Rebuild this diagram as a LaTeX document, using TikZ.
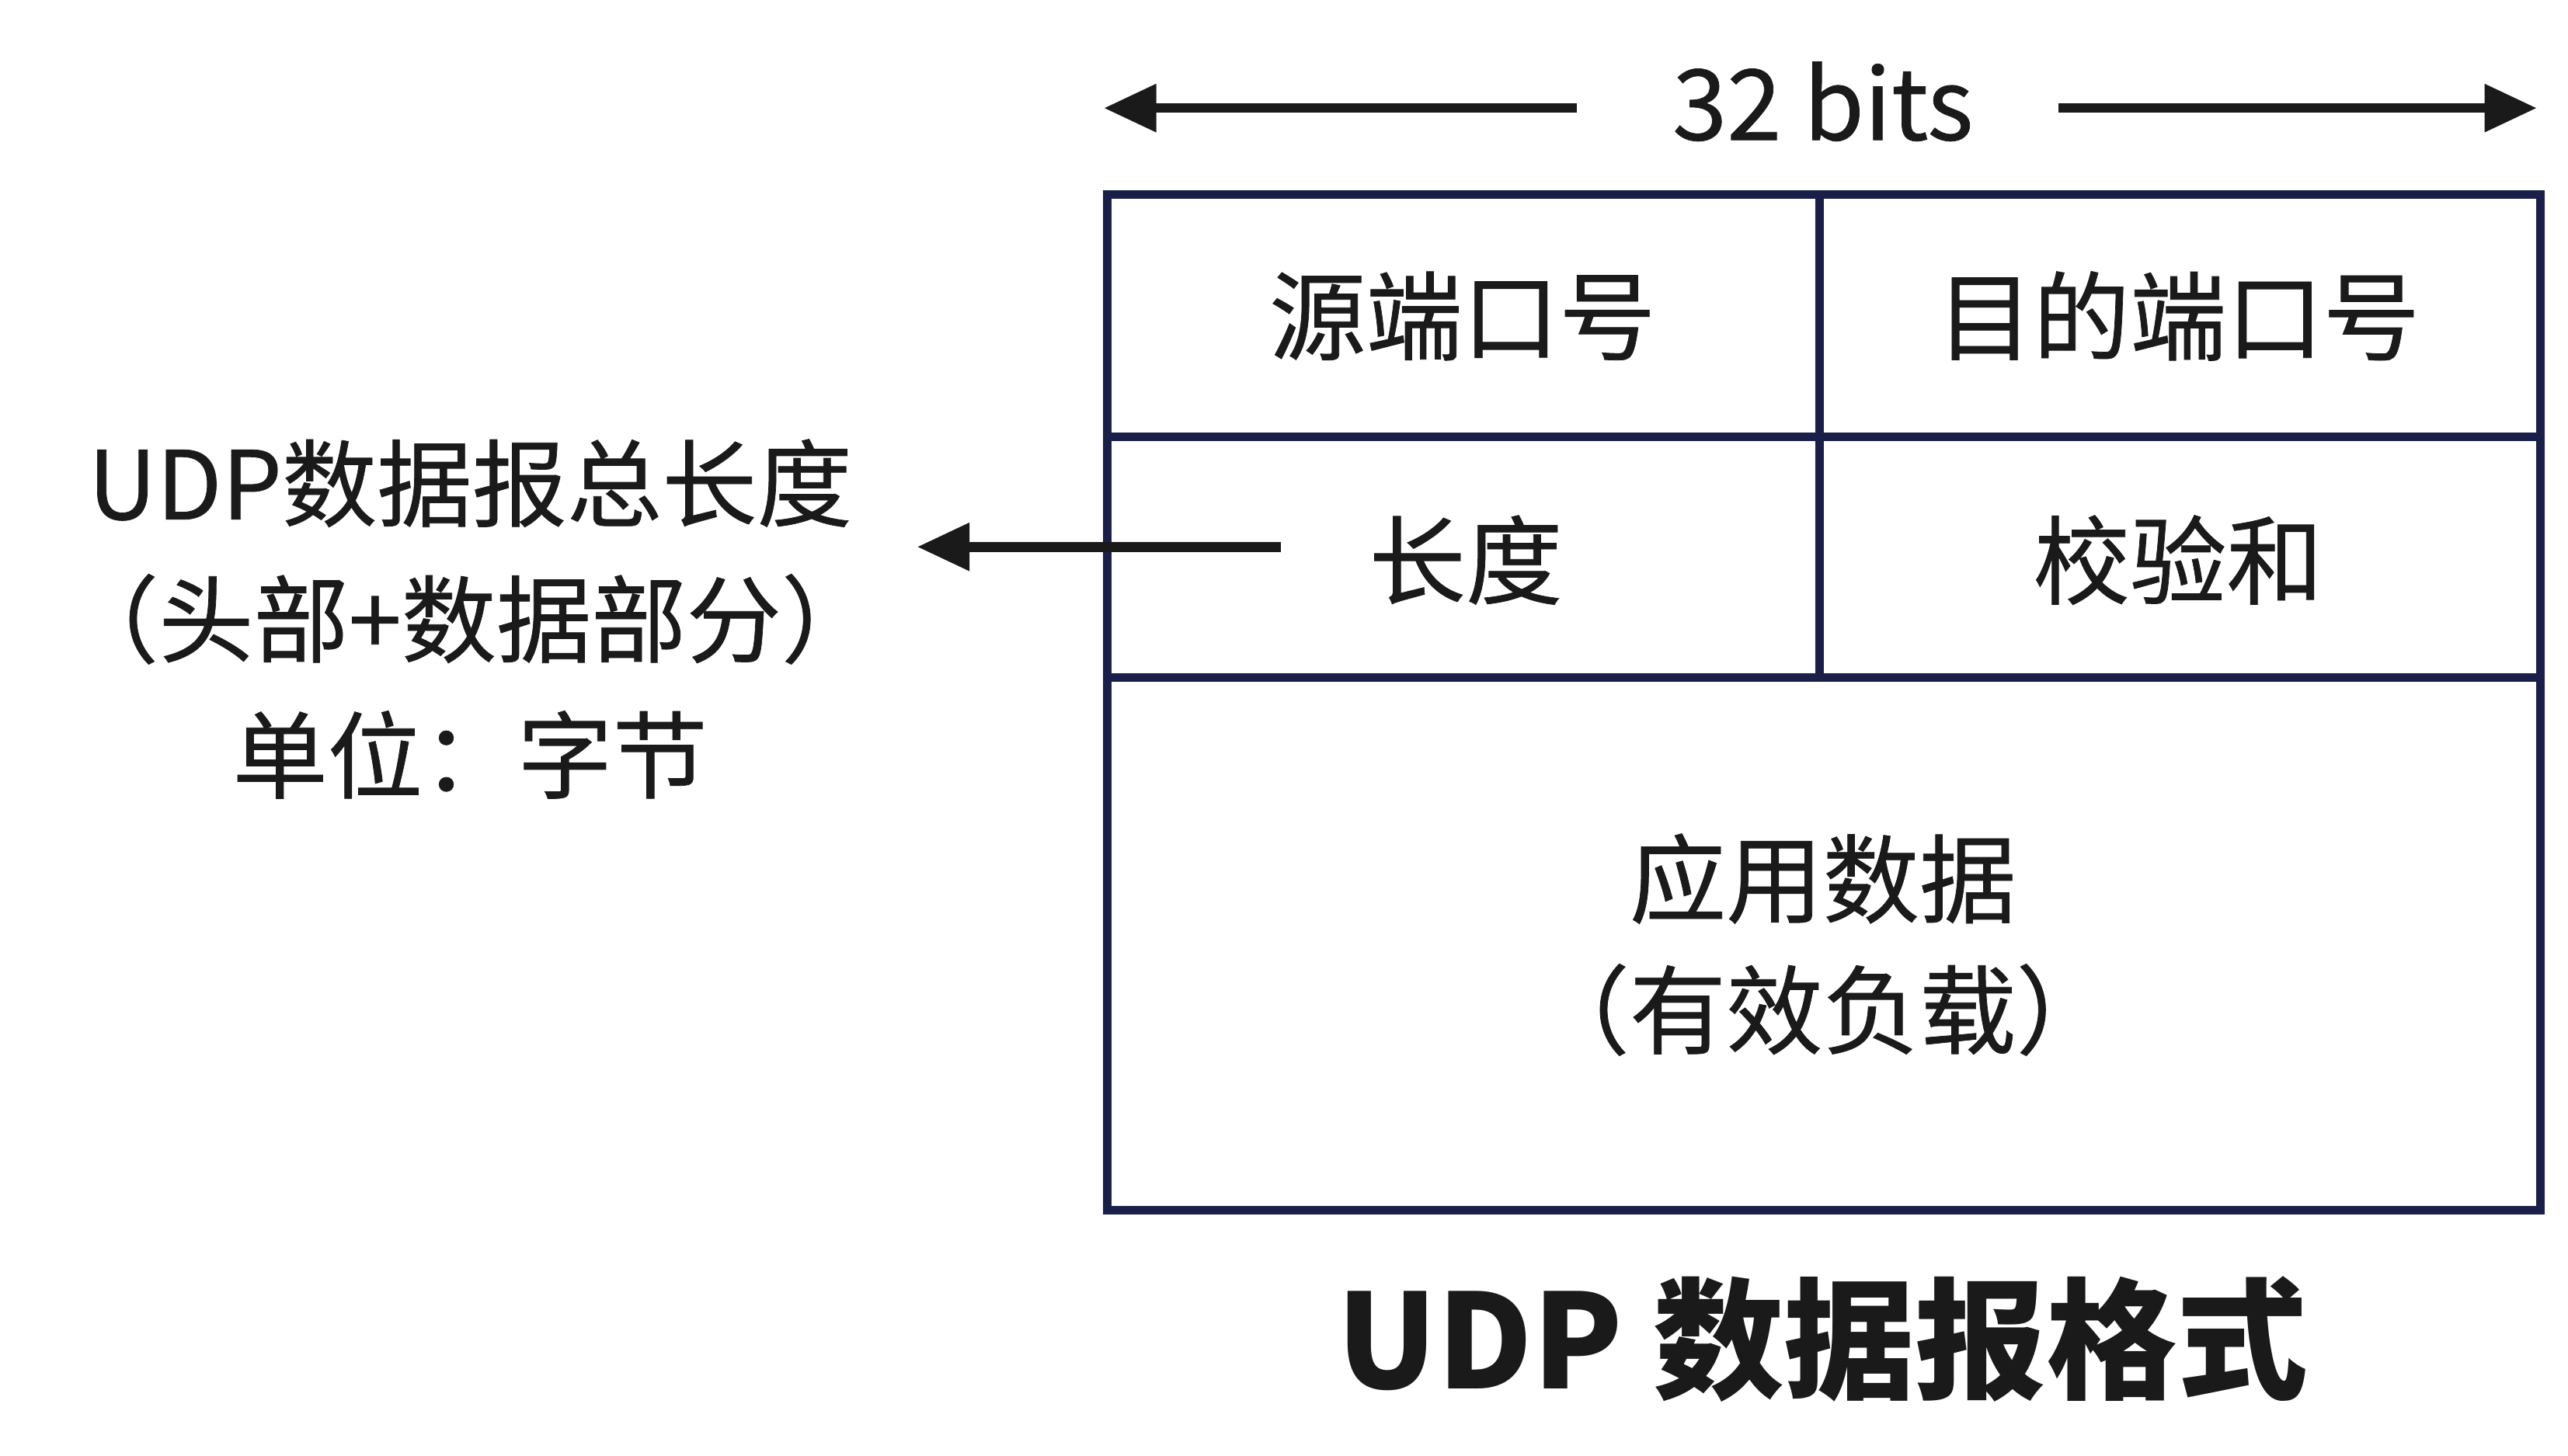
\documentclass[tikz,border=0pt]{standalone}
\usepackage{fontspec}
\setmainfont{Noto Sans CJK SC}
\newfontfamily\medfont[FakeBold=0.6]{Noto Sans CJK SC}
\usetikzlibrary{arrows.meta}
\definecolor{navy}{HTML}{1A1F4A}
\definecolor{ink}{HTML}{1A1A1A}
\begin{document}
\begin{tikzpicture}[x=0.5pt,y=-0.5pt,
  cell/.style={font=\medfont\fontsize{29.5}{40}\selectfont,text=ink,align=center},
  side/.style={font=\medfont\fontsize{29}{41.5}\selectfont,text=ink,align=center},
  frame/.style={draw=navy,line width=2.6pt},
  arr/.style={draw=ink,line width=3pt,-{Triangle[length=16pt,width=14pt]}}]
\useasboundingbox (0,0) rectangle (1568,889);
\draw[frame] (676,119) rectangle (1551,739);
\draw[frame] (676,267) -- (1551,267);
\draw[frame] (676,414) -- (1551,414);
\draw[frame] (1111,119) -- (1111,414);
\node[cell] (src) at (893,193) {源端口号};
\node[cell] (dst) at (1330,193) {目的端口号};
\node[cell] (len) at (895,342) {长度};
\node[cell] (chk) at (1330,342) {校验和};
\node[cell] (data) at (1113,577) {应用数据\\（有效负载）};
\node[font=\medfont\fontsize{30}{36}\selectfont,text=ink] (bits) at (1113,62) {32 bits};
\node[font=\fontsize{40}{46}\selectfont\bfseries,text=ink] (title) at (1113,818) {UDP 数据报格式};
\node[side] (note) at (287,378) {UDP数据报总长度\\（头部+数据部分）\\单位：字节};
\coordinate (la) at (963,66); \coordinate (lb) at (674,66);
\coordinate (ra) at (1257,66); \coordinate (rb) at (1549,66);
\coordinate (ca) at (782,334); \coordinate (cb) at (560,334);
\draw[arr] (la) -- (lb);
\draw[arr] (ra) -- (rb);
\draw[arr] (ca) -- (cb);
\end{tikzpicture}
\end{document}
